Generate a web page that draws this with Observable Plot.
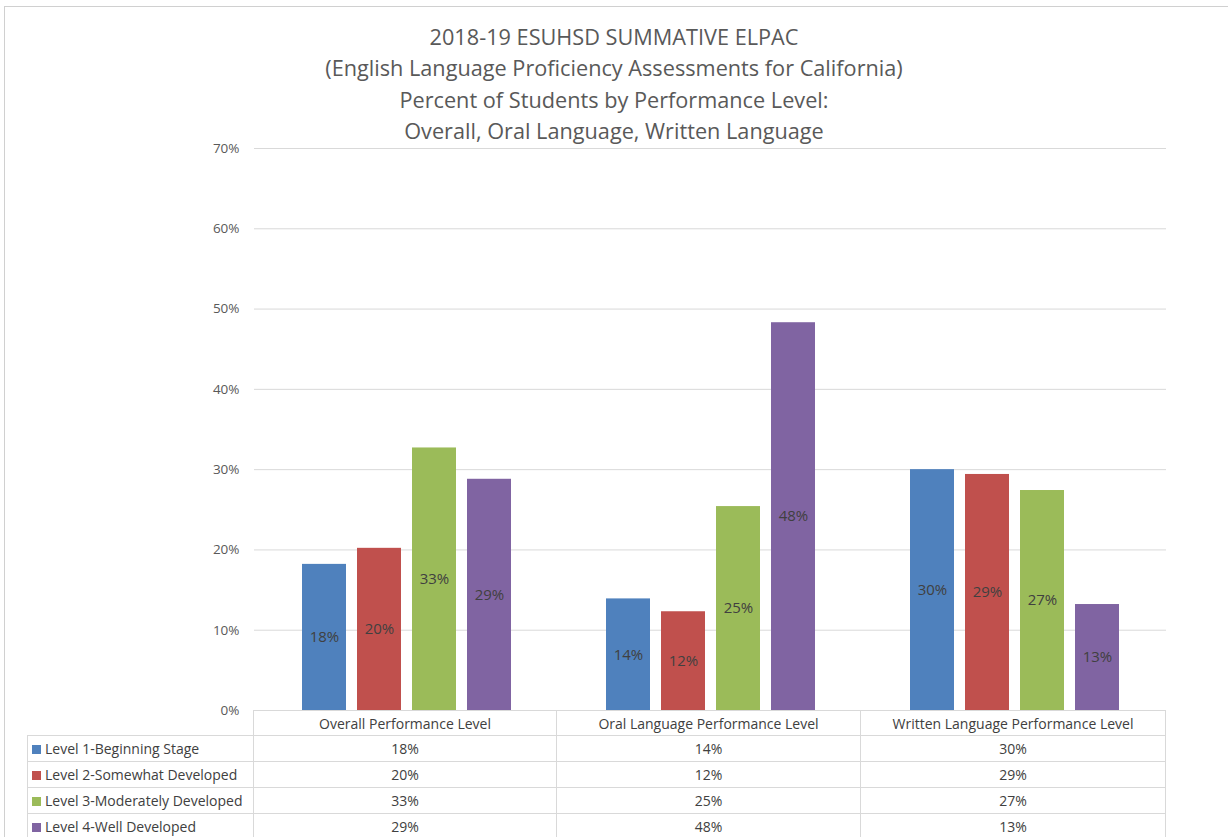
<!DOCTYPE html>
<html>
<head>
<meta charset="utf-8">
<script src="https://cdn.jsdelivr.net/npm/d3@7"></script>
<script src="https://cdn.jsdelivr.net/npm/@observablehq/plot@0.6"></script>
<style>
  html, body { margin: 0; padding: 0; background: #fff; }
  body { width: 1228px; height: 837px; position: relative; overflow: hidden; font-family: "Open Sans", sans-serif; }
  #frame { position: absolute; left: 4px; top: 6px; width: 1240px; height: 900px; border-left: 1px solid #d0d0d0; border-top: 1px solid #d0d0d0; }
  #title { position: absolute; left: 0; top: 21px; width: 1228px; text-align: center; color: #595959; font-size: 21.7px; line-height: 31.3px; }
  #chart { position: absolute; left: 0; top: 140px; }
  #tbl { position: absolute; left: 27px; top: 710px; border-collapse: collapse; font-size: 14px; color: #404040; table-layout: fixed; }
  #tbl td { border: 1px solid #d9d9d9; padding: 0; text-align: center; height: 25px; box-sizing: border-box; white-space: nowrap; overflow: hidden; }
  #tbl td.lab { text-align: left; padding-left: 4px; }
  #tbl td.blank { border: none; border-right: 1px solid #d9d9d9; }
  .sw { display: inline-block; width: 9px; height: 9px; margin-right: 4px; vertical-align: 0px; }
</style>
</head>
<body>
<div id="frame"></div>
<div id="title">
  <div>2018-19 ESUHSD SUMMATIVE ELPAC</div>
  <div>(English Language Proficiency Assessments for California)</div>
  <div>Percent of Students by Performance Level:</div>
  <div>Overall, Oral Language, Written Language</div>
</div>
<div id="chart"></div>
<table id="tbl"></table>
<script>
const groups = ["Overall Performance Level", "Oral Language Performance Level", "Written Language Performance Level"];
const levels = ["Level 1-Beginning Stage", "Level 2-Somewhat Developed", "Level 3-Moderately Developed", "Level 4-Well Developed"];
const level1 = [18.2, 13.9, 30.0];
const level2 = [20.2, 12.3, 29.4];
const level3 = [32.7, 25.4, 27.4];
const level4 = [28.8, 48.3, 13.2];
const colors = ["#4f81bd", "#c0504d", "#9bbb59", "#8064a2"];
const yTicks = [0, 10, 20, 30, 40, 50, 60, 70];

const series = [level1, level2, level3, level4];
const data = [];
groups.forEach((g, gi) => {
  levels.forEach((l, li) => {
    data.push({group: g, level: l, value: series[li][gi]});
  });
});

const chart = Plot.plot({
  width: 1228,
  height: 578,
  marginLeft: 253,
  marginRight: 62,
  marginTop: 8,
  marginBottom: 8,
  style: {fontFamily: "Open Sans, sans-serif", background: "transparent"},
  fx: {domain: groups, padding: 0, axis: null, label: null},
  x: {domain: levels, paddingInner: 0.2, paddingOuter: 0.85, axis: null, label: null},
  y: {domain: [0, 70], axis: null, label: null},
  color: {domain: levels, range: colors},
  marks: [
    Plot.gridY(yTicks, {stroke: "#d9d9d9", strokeOpacity: 1, strokeWidth: 1}),
    Plot.axisY(yTicks, {label: null, tickSize: 0, tickPadding: 15, tickFormat: d => d + "%", fontSize: 13.5, fill: "#595959"}),
    Plot.barY(data, {fx: "group", x: "level", y: "value", fill: "level"}),
    Plot.text(data, {fx: "group", x: "level", y: d => d.value / 2, text: d => Math.round(d.value) + "%", fill: "#404040", fontSize: 15})
  ]
});
document.getElementById("chart").appendChild(chart);

// data table
const tbl = document.getElementById("tbl");
const colW = [226, 303, 304, 305];
const cg = document.createElement("colgroup");
colW.forEach(w => { const c = document.createElement("col"); c.style.width = w + "px"; cg.appendChild(c); });
tbl.appendChild(cg);
tbl.style.width = colW.reduce((a, b) => a + b, 0) + "px";
const hr = document.createElement("tr");
const blank = document.createElement("td"); blank.className = "blank"; hr.appendChild(blank);
groups.forEach(g => { const td = document.createElement("td"); td.textContent = g; hr.appendChild(td); });
tbl.appendChild(hr);
levels.forEach((l, li) => {
  const tr = document.createElement("tr");
  const td0 = document.createElement("td"); td0.className = "lab";
  const sw = document.createElement("span"); sw.className = "sw"; sw.style.background = colors[li];
  td0.appendChild(sw); td0.appendChild(document.createTextNode(l));
  tr.appendChild(td0);
  groups.forEach((g, gi) => { const td = document.createElement("td"); td.textContent = Math.round(series[li][gi]) + "%"; td.style.height = "26px"; tr.appendChild(td); });
  tbl.appendChild(tr);
});
</script>
</body>
</html>
